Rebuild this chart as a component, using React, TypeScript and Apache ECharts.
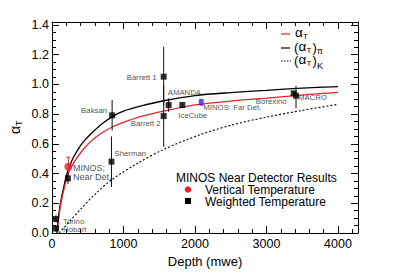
import React, { useEffect, useRef } from "react";
import * as echarts from "echarts";

const FONT = '"Liberation Sans", Arial, Helvetica, sans-serif';

// Weighted-temperature measurements (black markers)
const pointNames = ["Hobart", "Torino", "MINOS:\nNear Det.", "Sherman", "Baksan", "Barrett 1", "Barrett 2", "AMANDA", "IceCube", "Borexino", "MACRO"];
const pointDepth = [56, 56, 223, 832, 841, 1562, 1562, 1632, 1823, 3380, 3413];
const pointAlpha = [0.03, 0.094, 0.368, 0.48, 0.792, 1.052, 0.787, 0.861, 0.861, 0.94, 0.924];
const pointLow = [0.01, 0.07, 0.33, 0.31, 0.69, 0.86, 0.58, 0.816, 0.845, 0.925, 0.84];
const pointHigh = [0.05, 0.12, 0.41, 0.65, 0.895, 1.254, 0.99, 0.906, 0.88, 0.955, 0.99];

// MINOS near detector, vertical temperature (red)
const verticalDepth = [228];
const verticalAlpha = [0.446];
const verticalLow = [0.42];
const verticalHigh = [0.51];

// MINOS far detector (blue)
const farName = ["MINOS: Far Det."];
const farDepth = [2088];
const farAlpha = [0.88];

// Model curves
const alphaTDepth = [75, 95, 125, 170, 228, 300, 400, 550, 700, 850, 1000, 1250, 1562, 2000, 2500, 3000, 3400, 4000];
const alphaTValue = [0, 0.1, 0.2, 0.3, 0.4, 0.47, 0.54, 0.62, 0.675, 0.715, 0.745, 0.785, 0.82, 0.862, 0.888, 0.908, 0.925, 0.947];
const alphaPiDepth = [68, 88, 118, 160, 210, 280, 360, 450, 550, 700, 850, 1000, 1250, 1562, 2000, 2500, 3000, 3500, 4000];
const alphaPiValue = [0, 0.1, 0.2, 0.3, 0.4, 0.49, 0.56, 0.62, 0.67, 0.735, 0.785, 0.82, 0.855, 0.89, 0.925, 0.945, 0.96, 0.975, 0.985];
const alphaKDepth = [100, 250, 400, 600, 832, 1200, 1550, 2064, 2500, 3000, 3500, 4000];
const alphaKValue = [0, 0.08, 0.16, 0.26, 0.357, 0.47, 0.56, 0.66, 0.725, 0.78, 0.825, 0.866];

const xTicks = [0, 1000, 2000, 3000, 4000];
const yTicks = [0, 0.2, 0.4, 0.6, 0.8, 1.0, 1.2, 1.4];

// label placement (align, offset from marker centre)
const labelPlace: Record<string, { align: string; dx: number; dy: number; size?: number }> = {
  Hobart: { align: "left", dx: 7, dy: 1 },
  Torino: { align: "left", dx: 7, dy: 2 },
  "MINOS:\nNear Det.": { align: "left", dx: 5, dy: -6, size: 9 },
  Sherman: { align: "left", dx: 3, dy: -8 },
  Baksan: { align: "right", dx: -5, dy: -5 },
  "Barrett 1": { align: "right", dx: -7, dy: 1 },
  "Barrett 2": { align: "right", dx: -3, dy: 7 },
  AMANDA: { align: "left", dx: -1, dy: -13 },
  IceCube: { align: "left", dx: -4, dy: 10 },
  Borexino: { align: "right", dx: -7, dy: 8 },
  MACRO: { align: "left", dx: 2, dy: 2 },
  "MINOS: Far Det.": { align: "left", dx: 2, dy: 5 },
};

const zip = (a: number[], b: number[]) => a.map((v, i) => [v, b[i]]);

function errorSeries(xs: number[], lo: number[], hi: number[], color: string, cap: boolean) {
  return {
    type: "custom",
    silent: true,
    z: 3,
    encode: { x: 0, y: [1, 2] },
    data: xs.map((x, i) => [x, lo[i], hi[i]]),
    renderItem: (_p: any, api: any) => {
      const a = api.coord([api.value(0), api.value(1)]);
      const b = api.coord([api.value(0), api.value(2)]);
      const children: any[] = [
        { type: "line", shape: { x1: a[0], y1: a[1], x2: b[0], y2: b[1] }, style: { stroke: color, lineWidth: 1 } },
      ];
      if (cap) {
        children.push({ type: "line", shape: { x1: b[0] - 2, y1: b[1], x2: b[0] + 2, y2: b[1] }, style: { stroke: color, lineWidth: 1 } });
      }
      return { type: "group", children };
    },
  };
}

function labelled(names: string[], xs: number[], ys: number[]) {
  return xs.map((x, i) => {
    const p = labelPlace[names[i]];
    return {
      value: [x, ys[i]],
      name: names[i],
      label: {
        show: true,
        formatter: names[i],
        position: "inside",
        align: p.align,
        verticalAlign: "middle",
        offset: [p.dx, p.dy],
        fontSize: p.size || 7.8,
        lineHeight: 9,
        fontFamily: FONT,
        color: "#222",
        textBorderWidth: 0,
        textBorderColor: "transparent",
        textShadowBlur: 0,
      },
    };
  });
}

export default function App() {
  const ref = useRef<HTMLDivElement>(null);
  useEffect(() => {
    if (!ref.current) return;
    const chart = echarts.init(ref.current, undefined, { renderer: "svg" });
    const axisCommon = {
      axisLine: { show: true, onZero: false, lineStyle: { color: "#000", width: 1 } },
      splitLine: { show: false },
    };
    const xBase = { type: "value", min: 0, max: 4280, interval: 1000 };
    const yBase = { type: "value", min: 0, max: 1.42, interval: 0.2 };
    const txt = (x: number, y: number, text: string, size: number, lh?: number) => ({
      type: "text",
      x,
      y,
      style: { text, fontSize: size, fontFamily: FONT, fill: "#000", verticalAlign: "middle", lineHeight: lh || size },
    });
    chart.setOption({
      animation: false,
      backgroundColor: "#fff",
      textStyle: { fontFamily: FONT },
      grid: { left: 52, right: 41, top: 22, bottom: 42, containLabel: false },
      xAxis: [
        {
          ...xBase,
          ...axisCommon,
          position: "bottom",
          axisTick: { show: true, inside: true, length: 7, lineStyle: { color: "#000" } },
          minorTick: { show: true, splitNumber: 5, length: 4, lineStyle: { color: "#000" } },
          axisLabel: {
            show: true,
            margin: 4,
            fontSize: 12.5,
            color: "#000",
            fontFamily: FONT,
            formatter: (v: number) => (xTicks.includes(v) ? String(v) : ""),
          },
          name: "Depth (mwe)",
          nameLocation: "middle",
          nameGap: 17,
          nameTextStyle: { fontSize: 13, color: "#000", fontFamily: FONT },
        },
        {
          ...xBase,
          ...axisCommon,
          position: "top",
          axisTick: { show: true, inside: true, length: 7, lineStyle: { color: "#000" } },
          minorTick: { show: true, splitNumber: 5, length: 4, lineStyle: { color: "#000" } },
          axisLabel: { show: false },
        },
      ],
      yAxis: [
        {
          ...yBase,
          ...axisCommon,
          position: "left",
          axisTick: { show: true, inside: true, length: 7, lineStyle: { color: "#000" } },
          minorTick: { show: true, splitNumber: 4, length: 4, lineStyle: { color: "#000" } },
          axisLabel: {
            show: true,
            margin: 3,
            fontSize: 12.5,
            color: "#000",
            fontFamily: FONT,
            formatter: (v: number) =>
              yTicks.some((t) => Math.abs(t - v) < 1e-6) ? v.toFixed(1) : "",
          },
        },
        {
          ...yBase,
          ...axisCommon,
          position: "right",
          axisTick: { show: true, inside: true, length: 7, lineStyle: { color: "#000" } },
          minorTick: { show: true, splitNumber: 4, length: 4, lineStyle: { color: "#000" } },
          axisLabel: { show: false },
        },
      ],
      series: [
        {
          type: "line",
          data: zip(alphaKDepth, alphaKValue),
          smooth: 0.3,
          symbol: "none",
          lineStyle: { color: "#000", width: 1.1, type: [2, 2] },
          z: 2,
        },
        {
          type: "line",
          data: zip(alphaPiDepth, alphaPiValue),
          smooth: 0.3,
          symbol: "none",
          lineStyle: { color: "#000", width: 1.3 },
          z: 2,
        },
        {
          type: "line",
          data: zip(alphaTDepth, alphaTValue),
          smooth: 0.3,
          symbol: "none",
          lineStyle: { color: "#e3232b", width: 1.3 },
          z: 2,
        },
        errorSeries(pointDepth, pointLow, pointHigh, "#111", false),
        errorSeries(verticalDepth, verticalLow, verticalHigh, "#e3232b", true),
        {
          type: "scatter",
          symbol: "rect",
          symbolSize: 6,
          itemStyle: { color: "#000" },
          data: labelled(pointNames, pointDepth, pointAlpha),
          z: 5,
        },
        {
          type: "scatter",
          symbol: "circle",
          symbolSize: 8,
          itemStyle: { color: "#e8202a" },
          data: zip(verticalDepth, verticalAlpha),
          z: 6,
        },
        {
          type: "scatter",
          symbol: "roundRect",
          symbolSize: [5, 7],
          itemStyle: { color: "#2b2bf0" },
          data: labelled(farName, farDepth, farAlpha),
          z: 6,
        },
      ],
      graphic: [
        // y-axis title
        {
          type: "group",
          x: 15,
          y: 128,
          rotation: Math.PI / 2,
          children: [
            { type: "text", x: -6, y: 0, style: { text: "α", fontSize: 14, fontFamily: FONT, fill: "#000", verticalAlign: "middle", lineHeight: 14 } },
            { type: "text", x: 2, y: 4, style: { text: "T", fontSize: 9, fontFamily: FONT, fill: "#000", verticalAlign: "middle", lineHeight: 9 } },
          ],
        },
        // top-right legend
        { type: "line", shape: { x1: 281, y1: 34, x2: 290, y2: 34 }, style: { stroke: "#e3232b", lineWidth: 1.2 } },
        { type: "line", shape: { x1: 281, y1: 48, x2: 290, y2: 48 }, style: { stroke: "#000", lineWidth: 1.2 } },
        { type: "line", shape: { x1: 281, y1: 61, x2: 291, y2: 61 }, style: { stroke: "#000", lineWidth: 1.1, lineDash: [1.5, 1.5] } },
        txt(295, 32, "α", 13.5, 11),
        txt(303, 36, "T", 8, 8),
        txt(294, 47, "(", 13, 12),
        txt(298.5, 46.5, "α", 13.5, 11),
        txt(306.5, 50, "T", 8, 8),
        txt(312.5, 47, ")", 13, 12),
        txt(317, 51, "π", 8.5, 8),
        txt(294, 60, "(", 13, 12),
        txt(298.5, 59.5, "α", 13.5, 11),
        txt(306.5, 63, "T", 8, 8),
        txt(312.5, 60, ")", 13, 12),
        txt(317, 66, "K", 9, 8),
        // bottom legend
        txt(176, 177.5, "MINOS Near Detector Results", 12, 11),
        { type: "circle", shape: { cx: 188, cy: 189.5, r: 3.3 }, style: { fill: "#e8202a" } },
        txt(205, 189.5, "Vertical Temperature", 12, 11),
        { type: "rect", shape: { x: 185, y: 198, width: 6, height: 6 }, style: { fill: "#000" } },
        txt(205, 201.5, "Weighted Temperature", 12, 11),
      ],
    });
    return () => chart.dispose();
  }, []);
  return <div ref={ref} style={{ width: 399, height: 275, position: "absolute", left: 0, top: 0 }} />;
}
